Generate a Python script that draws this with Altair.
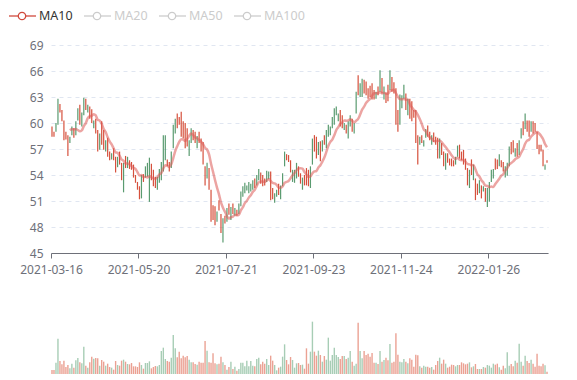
import altair as alt
import pandas as pd

# ---- data ----
opens = [
    59.6, 59.0, 59.0, 59.8, 62.2, 61.5, 60.3, 59.0, 58.6, 57.7,
    58.6, 59.4, 58.6, 60.3, 62.1, 59.6, 60.9, 62.8, 61.2, 61.9,
    61.6, 59.4, 60.5, 59.2, 56.9, 60.2, 59.2, 56.7, 58.3, 56.7,
    55.8, 57.1, 56.1, 54.9, 56.7, 55.4, 52.0, 56.2, 54.8, 55.7,
    55.5, 55.2, 54.0, 53.2, 52.7, 51.3, 54.1, 53.7, 53.8, 50.9,
    55.3, 54.6, 53.8, 52.3, 53.1, 53.4, 54.4, 55.7, 55.8, 55.5,
    54.8, 57.1, 58.8, 61.1, 60.7, 61.3, 60.2, 60.0, 59.4, 56.2,
    57.7, 59.2, 59.0, 57.1, 59.0, 58.2, 57.8, 55.0, 53.6, 54.8,
    52.3, 50.5, 50.4, 48.6, 51.1, 49.5, 46.2, 49.3, 48.6, 50.7,
    48.8, 50.7, 49.3, 50.0, 49.5, 50.4, 51.5, 51.9, 52.2, 51.9,
    52.1, 52.3, 53.6, 52.8, 53.4, 54.3, 54.0, 53.6, 53.2, 53.5,
    54.4, 52.5, 50.8, 51.5, 53.0, 51.2, 52.7, 55.0, 56.4, 56.3,
    55.7, 53.2, 53.1, 53.6, 55.0, 54.2, 52.3, 54.0, 54.8, 54.6,
    52.5, 55.2, 58.6, 58.4, 56.3, 57.9, 56.7, 58.6, 57.1, 58.4,
    58.6, 59.4, 59.8, 60.9, 60.2, 61.5, 60.9, 59.2, 59.8, 58.2,
    59.6, 60.5, 58.8, 61.1, 65.5, 63.0, 63.0, 65.0, 64.8, 64.0,
    64.3, 64.6, 63.8, 62.8, 64.2, 63.6, 65.2, 62.7, 63.5, 64.4,
    63.8, 65.3, 64.7, 64.0, 61.5, 59.8, 61.7, 62.8, 63.4, 60.9,
    62.8, 62.5, 61.5, 61.5, 58.6, 57.5, 58.6, 57.3, 58.3, 59.7,
    59.0, 57.5, 58.9, 58.4, 58.3, 55.9, 57.7, 56.7, 54.6, 56.5,
    55.9, 55.9, 55.7, 55.2, 56.1, 57.5, 56.7, 56.9, 55.9, 54.8,
    52.5, 55.8, 53.4, 53.6, 53.0, 51.9, 52.8, 52.1, 52.5, 50.3,
    50.9, 53.2, 53.6, 55.9, 55.8, 55.0, 55.7, 55.5, 53.7, 53.9,
    55.0, 57.8, 58.0, 56.1, 57.7, 56.3, 58.2, 60.2, 59.3, 60.3,
    60.3, 59.0, 60.2, 60.0, 59.0, 57.5, 57.5, 56.9, 54.6, 55.7,
]
closes = [
    58.4, 58.4, 60.0, 62.8, 61.2, 60.2, 58.0, 58.1, 56.2, 58.4,
    59.6, 58.3, 60.2, 61.7, 59.8, 61.2, 62.9, 61.5, 62.1, 60.5,
    60.0, 60.3, 58.8, 56.7, 58.8, 57.5, 56.9, 58.0, 56.1, 55.7,
    56.5, 55.7, 54.3, 56.1, 55.2, 53.4, 55.4, 54.8, 56.1, 54.7,
    54.6, 53.7, 53.1, 52.3, 51.2, 54.0, 53.2, 55.0, 55.4, 56.0,
    53.4, 52.7, 52.5, 53.8, 54.7, 55.5, 58.6, 58.6, 55.0, 54.4,
    56.7, 59.8, 60.5, 59.4, 59.8, 58.4, 58.2, 57.1, 57.3, 58.0,
    59.4, 58.0, 57.7, 58.5, 57.7, 56.7, 55.2, 52.8, 55.4, 52.3,
    48.6, 48.8, 48.2, 49.8, 49.9, 47.3, 49.0, 48.4, 50.2, 49.4,
    50.3, 49.5, 50.2, 49.3, 50.7, 52.1, 52.7, 53.1, 52.8, 53.2,
    53.0, 53.4, 52.5, 54.0, 54.7, 53.0, 52.7, 52.8, 54.5, 54.4,
    51.1, 51.2, 51.9, 52.3, 51.7, 52.8, 54.2, 56.7, 55.7, 55.5,
    54.3, 54.6, 54.6, 55.4, 53.8, 53.0, 53.7, 52.8, 52.8, 52.7,
    55.0, 58.2, 56.7, 55.9, 57.8, 55.6, 58.0, 57.5, 59.2, 59.8,
    59.6, 60.7, 61.7, 61.9, 61.1, 59.6, 59.4, 60.0, 58.8, 60.2,
    60.9, 59.0, 60.0, 63.6, 63.2, 64.6, 65.1, 63.4, 63.2, 62.8,
    63.0, 62.7, 62.7, 63.6, 63.2, 66.1, 63.4, 64.2, 62.3, 62.5,
    66.1, 63.6, 63.4, 59.8, 59.0, 63.3, 63.2, 64.4, 61.5, 62.8,
    60.5, 60.2, 60.6, 57.7, 55.2, 58.4, 57.7, 58.0, 59.3, 58.4,
    58.0, 58.6, 57.8, 57.5, 55.9, 58.2, 56.3, 55.0, 56.5, 55.4,
    55.1, 55.0, 55.0, 56.1, 57.4, 55.9, 55.7, 55.2, 54.6, 52.8,
    54.6, 54.0, 55.2, 51.1, 51.7, 53.4, 51.3, 52.7, 50.9, 52.5,
    53.2, 54.6, 54.7, 54.6, 54.7, 56.4, 54.9, 54.4, 55.0, 55.4,
    57.3, 56.4, 56.6, 57.1, 56.1, 58.0, 59.4, 58.6, 61.1, 59.0,
    58.4, 60.2, 58.8, 59.0, 57.0, 56.4, 56.7, 55.0, 55.2, 55.4,
]
volumes = [
    12, 12, 34, 106, 39, 29, 40, 21, 27, 17,
    31, 19, 41, 48, 35, 32, 82, 25, 19, 35,
    52, 46, 48, 47, 25, 42, 37, 25, 31, 21,
    19, 13, 39, 27, 25, 40, 43, 37, 30, 29,
    33, 23, 23, 21, 35, 27, 16, 33, 33, 38,
    17, 21, 24, 23, 27, 69, 79, 45, 39, 37,
    49, 117, 77, 50, 67, 47, 55, 50, 54, 43,
    35, 35, 30, 28, 37, 34, 34, 99, 70, 35,
    34, 62, 32, 29, 31, 52, 35, 27, 13, 21,
    37, 15, 22, 10, 15, 34, 34, 23, 40, 23,
    39, 25, 23, 45, 49, 29, 37, 31, 45, 27,
    55, 40, 27, 11, 19, 22, 52, 89, 42, 29,
    51, 42, 19, 32, 33, 27, 28, 16, 77, 31,
    67, 157, 67, 55, 70, 57, 37, 54, 43, 109,
    40, 57, 79, 57, 51, 45, 54, 54, 45, 49,
    69, 37, 25, 31, 154, 69, 47, 69, 57, 61,
    52, 63, 34, 34, 30, 69, 37, 42, 49, 41,
    90, 34, 37, 122, 58, 37, 35, 45, 37, 32,
    47, 43, 22, 58, 56, 23, 19, 25, 22, 22,
    19, 21, 13, 27, 39, 49, 31, 43, 31, 19,
    22, 28, 27, 23, 27, 27, 35, 32, 29, 31,
    35, 20, 23, 30, 15, 15, 15, 21, 19, 27,
    25, 19, 31, 28, 31, 20, 13, 25, 17, 65,
    25, 30, 23, 40, 34, 91, 37, 25, 55, 39,
    33, 43, 31, 22, 61, 25, 23, 31, 26, 7,
]
tick_index = [0, 44, 88, 132, 176, 220]
tick_labels = ["2021-03-16", "2021-05-20", "2021-07-21",
               "2021-09-23", "2021-11-24", "2022-01-26"]
y_ticks = [45, 48, 51, 54, 57, 60, 63, 66, 69]
legend_names = ["MA10", "MA20", "MA50", "MA100"]

# ---- styling ----
FONT = "Noto Sans"
UP, DOWN = "#5a9b70", "#d6503c"
VUP, VDOWN = "#a7cdb5", "#eba193"
AXIS_C = "#6E7079"

n = len(opens)
df = pd.DataFrame({
    "idx": list(range(n)),
    "open": opens,
    "close": closes,
    "volume": volumes,
})

label_expr = " : ".join(
    f"datum.value == {i} ? '{l}'" for i, l in zip(tick_index, tick_labels)
) + " : ''"

xscale = alt.Scale(domain=[0, n], nice=False, zero=False)
yscale = alt.Scale(domain=[45, 69], nice=False, zero=False)

base = alt.Chart(df).transform_calculate(
    pos="datum.idx + 0.5",
    low="min(datum.open, datum.close)",
    high="max(datum.open, datum.close)",
    dir="datum.close >= datum.open ? 'up' : 'down'",
)

xaxis = alt.Axis(values=tick_index, labelExpr=label_expr, title=None, grid=False,
                 domainColor=AXIS_C, tickColor=AXIS_C, tickSize=5,
                 labelColor=AXIS_C, labelFontSize=12, labelPadding=6,
                 labelFont=FONT, labelFlush=False, labelOverlap=False)
yaxis = alt.Axis(values=y_ticks, title=None, domain=False, ticks=False,
                 gridColor="#E0E6F1", gridDash=[4, 4], labelColor=AXIS_C,
                 labelPadding=8, labelFontSize=12, labelFont=FONT,
                 labelOverlap=False, labelFlush=False)

candles = base.mark_rule(strokeWidth=1.2).encode(
    x=alt.X("pos:Q", scale=xscale, axis=xaxis, title=None),
    y=alt.Y("low:Q", scale=yscale, axis=yaxis, title=None),
    y2="high:Q",
    color=alt.Color("dir:N", scale=alt.Scale(domain=["up", "down"], range=[UP, DOWN]),
                    legend=None),
)

ma = base.transform_window(
    ma="mean(close)", frame=[-9, 0], sort=[alt.SortField("idx")]
).transform_filter("datum.idx >= 9").mark_line(
    color="#dc5a55", opacity=0.55, strokeWidth=2.5, interpolate="monotone"
).encode(
    x=alt.X("pos:Q", scale=xscale, axis=xaxis, title=None),
    y=alt.Y("ma:Q", scale=yscale, axis=yaxis, title=None),
)

legend_layers = []
LEG_Y = -29
for i, name in enumerate(legend_names):
    active = i == 0
    col = "#d14a3d" if active else "#cccccc"
    tcol = "#333333" if active else "#cccccc"
    start = -42 + 75 * i
    ld = pd.DataFrame({"name": [name]})
    legend_layers.append(alt.Chart(ld).mark_rule(color=col, strokeWidth=1.3).encode(
        x=alt.value(start), x2=alt.value(start + 27), y=alt.value(LEG_Y)))
    legend_layers.append(alt.Chart(ld).mark_point(
        shape="circle", filled=True, fill="white", stroke=col, strokeWidth=1.3,
        size=55, opacity=1).encode(x=alt.value(start + 13), y=alt.value(LEG_Y)))
    legend_layers.append(alt.Chart(ld).mark_text(
        align="left", baseline="middle", fontSize=12.5, color=tcol, font=FONT).encode(
        x=alt.value(start + 30), y=alt.value(LEG_Y), text="name:N"))

top = alt.layer(candles, ma, *legend_layers).properties(width=497, height=208)

vol_bars = alt.Chart(df).transform_calculate(
    x0="datum.idx + 0.15",
    x1="datum.idx + 0.85",
    v0="0",
    vdir="datum.close >= datum.open ? 'vup' : 'vdown'",
).mark_rect().encode(
    x=alt.X("x0:Q", scale=xscale,
            axis=alt.Axis(labels=False, ticks=False, grid=False, domainColor="#444444",
                          title=None), title=None),
    x2="x1:Q",
    y=alt.Y("volume:Q", scale=alt.Scale(domain=[0, 180], nice=False), axis=None),
    y2="v0:Q",
    color=alt.Color("vdir:N", scale=alt.Scale(domain=["vup", "vdown"], range=[VUP, VDOWN]),
                    legend=None),
)
spacer = alt.Chart(pd.DataFrame({"a": [0]})).mark_rule(strokeOpacity=0).encode(
    x=alt.value(-42), x2=alt.value(0), y=alt.value(0))

bottom = alt.layer(vol_bars, spacer).properties(width=497, height=60)

chart = alt.vconcat(top, bottom, spacing=39).properties(
    padding={"left": 0, "top": 1, "right": 0, "bottom": 0}
).configure_view(stroke=None).resolve_scale(color="independent")

chart.save("out.html", embed_options={"renderer": "svg", "actions": False})
